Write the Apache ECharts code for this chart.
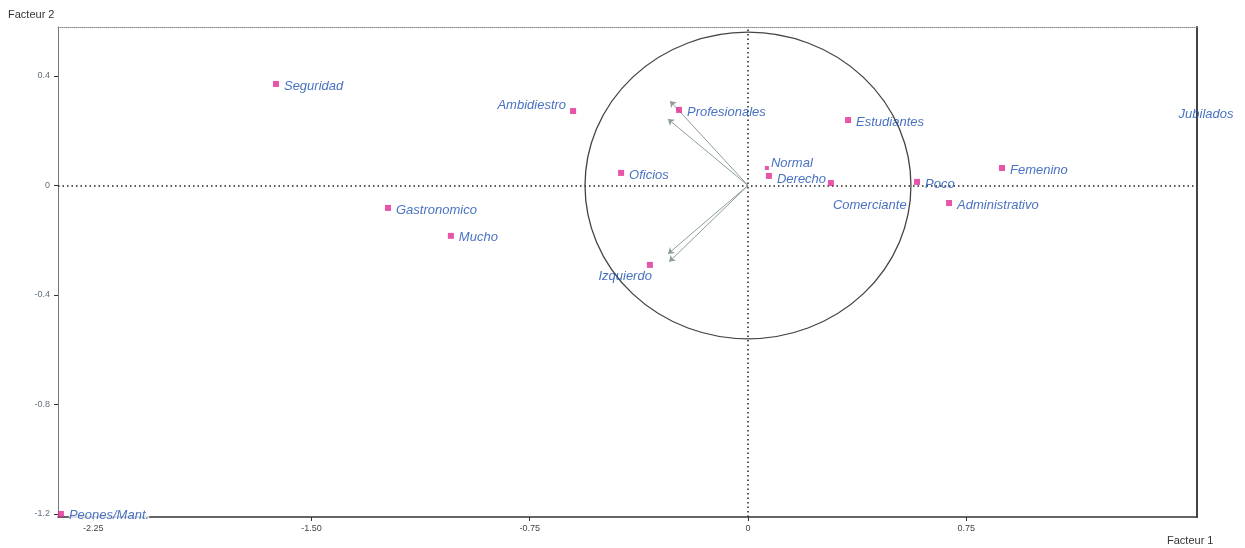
<!DOCTYPE html>
<html>
<head>
<meta charset="utf-8">
<script src="https://cdn.jsdelivr.net/npm/echarts@6/dist/echarts.min.js"></script>
<style>
html,body{margin:0;padding:0;background:#fff;}
#chart{width:1245px;height:548px;}
</style>
</head>
<body>
<div id="chart"></div>
<script>
// ---- data ----
const categories = ['Seguridad','Ambidiestro','Profesionales','Estudiantes','Jubilados','Normal','Derecho','Comerciante','Oficios','Poco','Femenino','Administrativo','Gastronomico','Mucho','Izquierdo','Peones/Mant.'];
const factor1 = [-1.622,-0.601,-0.237,0.344,1.574,0.065,0.072,0.285,-0.436,0.581,0.873,0.691,-1.237,-1.021,-0.337,-2.361];
const factor2 = [0.371,0.272,0.276,0.239,0.261,0.064,0.035,0.009,0.046,0.013,0.064,-0.064,-0.082,-0.184,-0.290,-1.200];
const arrowX = [-0.268,-0.275,-0.275,-0.271];
const arrowY = [0.309,0.243,-0.250,-0.279];
const circleRadius = [0.56];
const xTicks = [-2.25,-1.5,-0.75,0,0.75];
const xTickLabels = ['-2.25','-1.50','-0.75','0','0.75'];
const yTicks = [-1.2,-0.8,-0.4,0,0.4];
const yTickLabels = ['-1.2','-0.8','-0.4','0','0.4'];
const X_MIN = -2.371, X_MAX = 1.543, Y_MIN = -1.211, Y_MAX = 0.579;

// per-label placement (style only)
const labelStyle = {
  'Ambidiestro': {position:'left', offset:[1,-6]},
  'Normal': {position:'right', distance:2, offset:[0,-5]},
  'Derecho': {position:'right', offset:[0,3]},
  'Comerciante': {position:'right', offset:[-6,22]},
  'Izquierdo': {position:'left', offset:[10,12]},
  'Jubilados': {position:'inside', offset:[0,0]},
  'Peones/Mant.': {position:'right', offset:[0,1], backgroundColor:'#fff'}
};

const pts = categories.map((c,i)=>{
  const ls = labelStyle[c] || {position:'right', offset:[0,2]};
  const item = {name:c, value:[factor1[i], factor2[i]], label:Object.assign({}, ls)};
  if (c === 'Jubilados') item.symbolSize = 0;
  if (c === 'Normal') item.symbolSize = 4;
  return item;
});

const chart = echarts.init(document.getElementById('chart'));
const fmt = (ticks, labels) => v => { const k = ticks.findIndex(t=>Math.abs(t-v)<1e-6); return k>=0 ? labels[k] : ''; };

chart.setOption({
  animation:false,
  grid:{left:58, right:48, top:27, bottom:31, containLabel:false},
  xAxis:[{
    type:'value', min:X_MIN, max:X_MAX, position:'bottom',
    axisLine:{show:true, onZero:false, lineStyle:{color:'#333', width:1.5}},
    axisTick:{show:true, customValues:xTicks, length:4, lineStyle:{color:'#333'}},
    axisLabel:{show:true, customValues:xTicks, formatter:fmt(xTicks,xTickLabels), color:'#444', fontSize:9, fontFamily:'Liberation Sans, Arial, sans-serif', margin:7},
    splitLine:{show:false}
  },{
    type:'value', min:X_MIN, max:X_MAX, position:'top',
    axisLine:{show:true, onZero:false, lineStyle:{color:'#888', width:1, type:'dotted'}},
    axisTick:{show:false}, axisLabel:{show:false}, splitLine:{show:false}
  }],
  yAxis:[{
    type:'value', min:Y_MIN, max:Y_MAX, position:'left',
    axisLine:{show:true, onZero:false, lineStyle:{color:'#777', width:1}},
    axisTick:{show:true, customValues:yTicks, length:4, lineStyle:{color:'#333'}},
    axisLabel:{show:true, customValues:yTicks, formatter:fmt(yTicks,yTickLabels), color:'#5f7080', fontSize:9, fontFamily:'Liberation Sans, Arial, sans-serif', margin:8},
    splitLine:{show:false}
  },{
    type:'value', min:Y_MIN, max:Y_MAX, position:'right',
    axisLine:{show:true, onZero:false, lineStyle:{color:'#444', width:2}},
    axisTick:{show:false}, axisLabel:{show:false}, splitLine:{show:false}
  }],
  graphic:[
    {type:'text', left:8, top:9, style:{text:'Facteur 2', fill:'#333', font:'11px "Liberation Sans", Arial, sans-serif'}},
    {type:'text', left:1167, top:535, style:{text:'Facteur 1', fill:'#333', font:'11px "Liberation Sans", Arial, sans-serif'}}
  ],
  series:[
    {
      type:'custom', coordinateSystem:'cartesian2d', clip:false, silent:true, z:1,
      data:[[0,0,circleRadius[0]]],
      renderItem:function(params, api){
        const c = api.coord([api.value(0), api.value(1)]);
        const r = api.value(2);
        const rx = api.size([r,0])[0];
        const ry = api.size([0,r])[1];
        return {type:'circle', shape:{cx:0, cy:0, r:rx}, x:c[0], y:c[1], scaleX:1, scaleY:ry/rx,
          style:{fill:'none', stroke:'#444', lineWidth:1.3}};
      }
    },
    {
      type:'lines', coordinateSystem:'cartesian2d', silent:true, z:2,
      symbol:['none','arrow'], symbolSize:6,
      lineStyle:{color:'#8c9c9c', width:1, opacity:1},
      data: arrowX.map((x,i)=>({coords:[[0,0],[x,arrowY[i]]]}))
    },
    {
      type:'scatter', clip:false, z:3,
      symbol:'rect', symbolSize:6,
      itemStyle:{color:'#e02a92'},
      label:{show:true, formatter:'{b}', color:'#1a4db3', fontStyle:'italic', fontSize:13,
        fontFamily:'"Liberation Sans", Arial, sans-serif', distance:5},
      data:pts,
      markLine:{
        silent:true, symbol:['none','none'], label:{show:false}, z:1,
        lineStyle:{color:'#222', type:[1.5,3], width:1.5},
        data:[{xAxis:0},{yAxis:0}]
      }
    }
  ]
});
</script>
</body>
</html>
